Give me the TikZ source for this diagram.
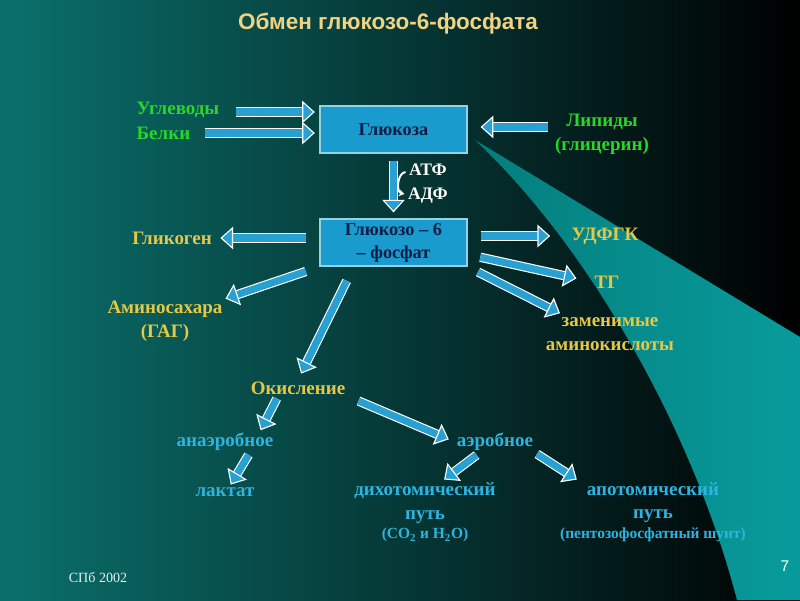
\documentclass[tikz,border=0pt]{standalone}
\usepackage{fontspec}
\setmainfont{Liberation Serif}
\newfontfamily\headfont{Liberation Sans}
\usetikzlibrary{arrows.meta}

\definecolor{bgteal}{RGB}{10,112,108}
\definecolor{wedgeteal}{RGB}{8,155,155}
\definecolor{wedgedark}{RGB}{5,125,125}
\definecolor{titleyellow}{RGB}{240,210,130}
\definecolor{labgreen}{RGB}{40,215,40}
\definecolor{labyellow}{RGB}{230,200,70}
\definecolor{labcyan}{RGB}{45,180,225}
\definecolor{boxblue}{RGB}{25,155,205}
\definecolor{boxline}{RGB}{150,210,230}
\definecolor{boxtext}{RGB}{15,30,70}
\definecolor{arrowblue}{RGB}{40,160,210}

\begin{document}
\begin{tikzpicture}[x=0.025cm, y=-0.025cm,
    lab/.style={inner sep=1pt, align=center, font=\fontsize{13.5}{17}\selectfont\bfseries},
    green lab/.style={lab, text=labgreen},
    yellow lab/.style={lab, text=labyellow},
    cyan lab/.style={lab, text=labcyan},
    white lab/.style={lab, text=white, font=\fontsize{12.5}{15}\selectfont\bfseries},
    bluebox/.style={shape=rectangle, draw=boxline, line width=1.2pt, fill=boxblue,
        minimum width=3.68cm, minimum height=1.18cm, inner sep=1pt, align=center,
        text=boxtext, font=\fontsize{13}{16.5}\selectfont\bfseries},
    blockarrow/.style={draw=white, line width=0.8pt, double=arrowblue, double distance=5pt,
        -{Triangle[length=9pt, width=16pt, fill=arrowblue]}},
    curvearrow/.style={draw=white, line width=1.4pt, -{Stealth[length=4pt, width=5pt]}}
]
\useasboundingbox (0,0) rectangle (800,600);

% background
\shade[left color=bgteal, right color=black] (0,0) rectangle (800,600);
\shade[left color=wedgedark, right color=wedgeteal]
    (475,140) -- (800,337) -- (800,600) -- (737,600)
    .. controls (690,420) and (582,240) .. (475,140) -- cycle;

% title
\node[text=titleyellow, font=\headfont\fontsize{16}{19}\selectfont\bfseries] (title) at (388, 24) {Обмен глюкозо-6-фосфата};

% sources
\node[green lab, anchor=west] (carbs) at (135, 110) {Углеводы};
\node[green lab, anchor=west] (proteins) at (135, 133) {Белки};
\node[green lab] (lipids) at (602, 134) {Липиды\\(глицерин)};

% main boxes
\node[bluebox] (glucose) at (393.5, 129.5) {Глюкоза};
\node[bluebox] (g6p) at (393.5, 242.5) {Глюкозо – 6\\– фосфат};
\node[white lab] (atp) at (428, 170) {АТФ};
\node[white lab] (adp) at (428, 196) {АДФ};

% products
\node[yellow lab] (glycogen) at (172, 238) {Гликоген};
\node[yellow lab] (udpgk) at (605, 236) {УДФГК};
\node[yellow lab] (tg) at (607, 282) {ТГ};
\node[yellow lab] (aminoacids) at (610, 334) {заменимые\\аминокислоты};
\node[yellow lab] (aminosugar) at (165, 321) {Аминосахара\\(ГАГ)};
\node[yellow lab] (oxidation) at (298, 388) {Окисление};

% oxidation
\node[cyan lab] (anaerobic) at (225, 442) {анаэробное};
\node[cyan lab] (aerobic) at (495, 442) {аэробное};
\node[cyan lab] (lactate) at (225, 492) {лактат};
\node[cyan lab] (dichotomic) at (425, 512) {дихотомический\\путь\\[-3pt]{\fontsize{11}{12}\selectfont (CO\textsubscript{2} и H\textsubscript{2}O)}};
\node[cyan lab] (apotomic) at (653, 512) {апотомический\\путь\\[-3pt]{\fontsize{11}{12}\selectfont (пентозофосфатный шунт)}};

% footer
\node[text=white!88!teal, font=\fontsize{10}{12}\selectfont] (spb) at (98, 578) {СПб 2002};
\node[text=white, font=\headfont\fontsize{11}{13}\selectfont] (page) at (785, 566) {7};

% arrows
\path ([shift={(0,2)}]carbs.east) edge[blockarrow, shorten <=11pt, shorten >=3pt] ([shift={(0,2)}]carbs.east -| glucose.west);
\path (proteins.east) edge[blockarrow, shorten <=9pt, shorten >=3pt] (proteins.east -| glucose.west);
\path ([shift={(0,-7)}]lipids.west) edge[blockarrow, shorten <=4pt, shorten >=9pt] ([shift={(0,-7)}]lipids.west -| glucose.east);
\path (glucose.south) edge[blockarrow, shorten <=5pt, shorten >=4pt] (g6p.north);
\path ([shift={(-2,2)}]atp.west) edge[curvearrow, bend right=80] ([shift={(-2,-2)}]adp.west);

\path (g6p.west |- glycogen.east) edge[blockarrow, shorten <=9pt, shorten >=5pt] (glycogen.east);
\path (g6p.east |- udpgk.west) edge[blockarrow, shorten <=9pt, shorten >=14pt] (udpgk.west);
\path ([shift={(0,12)}]g6p.east) edge[blockarrow, shorten <=9pt, shorten >=12pt] (tg.west);
\path (g6p.south east) edge[blockarrow, shorten <=8pt, shorten >=4pt] ([shift={(-45,0)}]aminoacids.north);
\path (g6p.south west) edge[blockarrow, shorten <=10pt, shorten >=1pt] (aminosugar.north east);
\path ([shift={(-40,0)}]g6p.south) edge[blockarrow, shorten <=11pt, shorten >=5pt] (oxidation.north);

\path ([shift={(-20,0)}]oxidation.south) edge[blockarrow, shorten <=2pt, shorten >=1pt] ([shift={(35,0)}]anaerobic.north);
\path (oxidation.south east) edge[blockarrow, shorten <=9pt, shorten >=5pt] (aerobic.west);
\path ([shift={(25,0)}]anaerobic.south) edge[blockarrow, shorten <=2pt, shorten >=1pt] ([shift={(5,0)}]lactate.north);
\path ([shift={(-15,0)}]aerobic.south) edge[blockarrow, shorten <=3pt, shorten >=1pt] ([shift={(18,0)}]dichotomic.north);
\path (aerobic.south east) edge[blockarrow, shorten <=2pt, shorten >=1pt] ([shift={(-75,0)}]apotomic.north);

\end{tikzpicture}
\end{document}
